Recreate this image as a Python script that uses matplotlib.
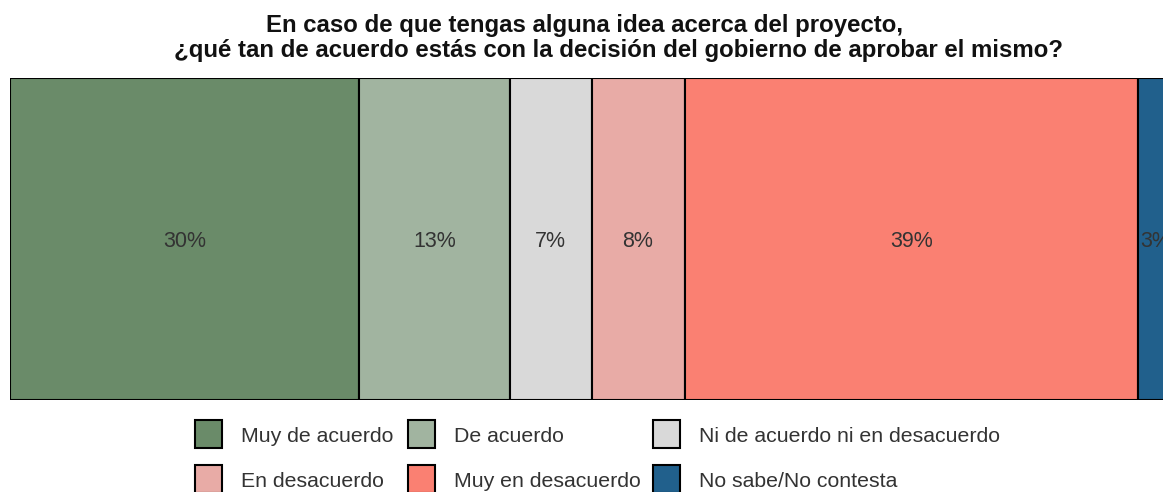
import matplotlib
matplotlib.use("Agg")
import matplotlib.pyplot as plt
from matplotlib.patches import Rectangle

plt.rcParams['font.family'] = ['Liberation Sans', 'DejaVu Sans']

categories = ["Muy de acuerdo", "De acuerdo", "Ni de acuerdo ni en desacuerdo",
              "En desacuerdo", "Muy en desacuerdo", "No sabe/No contesta"]
values = [30, 13, 7, 8, 39, 3]
labels = ["30%", "13%", "7%", "8%", "39%", "3%"]
colors = ["#6a8b69", "#a1b4a0", "#d9d9d9", "#e8aba6", "#fa8072", "#21608c"]
title_lines = ["En caso de que tengas alguna idea acerca del proyecto,",
               "¿qué tan de acuerdo estás con la decisión del gobierno de aprobar el mismo?"]

W, H = 1163, 492
fig = plt.figure(figsize=(W / 100, H / 100), dpi=100)

# axes: bar from x=10px to 1173px (clipped), y 78..400 px
ax = fig.add_axes([10 / W, (H - 400) / H, 1163 / W, 322 / H])
left = 0
for v, lab, c in zip(values, labels, colors):
    ax.barh(0, v, left=left, height=1.0, color=c, edgecolor="black", linewidth=1.5)
    ax.text(left + v / 2, -0.025, lab, ha="center", va="baseline", fontsize=15.5,
            color="#333333")
    left += v
ax.set_xlim(0, 100)
ax.set_ylim(-0.5, 0.5)
ax.axis("off")

# title
fig.text(585 / W, 1 - 32 / H, title_lines[0], ha="center", va="baseline",
         fontsize=17.3, fontweight="bold", color="#111111")
fig.text(618 / W, 1 - 57 / H, title_lines[1], ha="center", va="baseline",
         fontsize=17.3, fontweight="bold", color="#111111")

# legend (row-wise, 3 columns)
col_x = [195, 408, 653]
row_y = [434, 479]
for i, (cat, c) in enumerate(zip(categories, colors)):
    r, k = divmod(i, 3)
    x0 = col_x[k]
    yc = row_y[r]
    fig.patches.append(Rectangle((x0 / W, (H - yc - 14) / H), 27 / W, 28 / H,
                                 transform=fig.transFigure, facecolor=c,
                                 edgecolor="black", linewidth=1.5))
    fig.text((x0 + 46) / W, 1 - (yc + 8) / H, cat, ha="left", va="baseline",
             fontsize=15.3, color="#333333")

fig.savefig("out.png", dpi=100)
